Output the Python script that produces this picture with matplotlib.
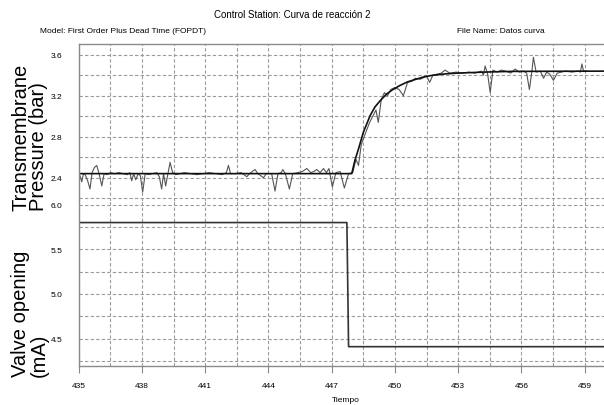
import matplotlib
matplotlib.use("Agg")
import matplotlib.pyplot as plt
from matplotlib.ticker import MultipleLocator

narrow = ['Liberation Sans Narrow', 'Liberation Sans', 'DejaVu Sans']
plt.rcParams['font.family'] = narrow

t_meas = [435.0, 435.07, 435.14, 435.22, 435.3, 435.42, 435.53, 435.63, 435.74, 435.85,
          435.96, 436.09, 436.2, 436.35, 436.5, 436.7, 436.9, 437.1, 437.3, 437.42,
          437.51, 437.6, 437.7, 437.82, 437.92, 438.03, 438.15, 438.3, 438.5, 438.7,
          438.82, 438.93, 439.02, 439.12, 439.22, 439.33, 439.45, 439.6, 439.8, 440.0,
          440.3, 440.6, 440.9, 441.2, 441.5, 441.8, 442.0, 442.1, 442.2, 442.4,
          442.7, 442.97, 443.1, 443.36, 443.5, 443.76, 443.9, 444.15, 444.31, 444.45,
          444.6, 444.68, 444.8, 444.99, 445.15, 445.4, 445.6, 445.82, 446.0, 446.15,
          446.29, 446.45, 446.61, 446.75, 446.87, 447.03, 447.2, 447.4, 447.6, 447.8,
          448.0, 448.15, 448.27, 448.4, 448.5, 448.65, 448.8, 448.95, 449.1, 449.21,
          449.35, 449.5, 449.65, 449.8, 450.0, 450.2, 450.4, 450.6, 450.8, 450.96,
          451.2, 451.5, 451.65, 451.8, 452.0, 452.2, 452.38, 452.6, 452.9, 453.2,
          453.5, 453.8, 454.1, 454.2, 454.28, 454.4, 454.52, 454.65, 454.85, 455.05,
          455.25, 455.5, 455.7, 455.9, 456.1, 456.25, 456.38, 456.5, 456.57, 456.7,
          456.9, 457.05, 457.2, 457.35, 457.52, 457.7, 457.9, 458.1, 458.4, 458.7,
          458.8, 458.87, 458.95, 459.1]
p_meas = [2.44, 2.41, 2.36, 2.44, 2.43, 2.37, 2.29, 2.45, 2.5, 2.52,
          2.44, 2.32, 2.44, 2.43, 2.45, 2.44, 2.45, 2.44, 2.43, 2.45,
          2.37, 2.44, 2.38, 2.44, 2.42, 2.26, 2.44, 2.43, 2.44, 2.45,
          2.41, 2.29, 2.44, 2.32, 2.43, 2.55, 2.45, 2.43, 2.44, 2.45,
          2.44, 2.43, 2.44, 2.45, 2.44, 2.43, 2.45, 2.52, 2.44, 2.44,
          2.45, 2.41, 2.44, 2.48, 2.44, 2.40, 2.44, 2.44, 2.27, 2.44,
          2.45, 2.48, 2.44, 2.29, 2.44, 2.45, 2.46, 2.49, 2.45, 2.46,
          2.48, 2.45, 2.49, 2.45, 2.49, 2.31, 2.45, 2.46, 2.30, 2.44,
          2.45, 2.58, 2.52, 2.72, 2.78, 2.86, 2.94, 3.0, 3.06, 2.94,
          3.16, 3.23, 3.20, 3.26, 3.28, 3.26, 3.20, 3.33, 3.34, 3.37,
          3.36, 3.39, 3.33, 3.40, 3.41, 3.42, 3.45, 3.42, 3.43, 3.42,
          3.43, 3.42, 3.44, 3.40, 3.49, 3.41, 3.23, 3.45, 3.43, 3.45,
          3.44, 3.42, 3.46, 3.43, 3.44, 3.42, 3.26, 3.44, 3.575, 3.43,
          3.44, 3.37, 3.43, 3.41, 3.35, 3.42, 3.43, 3.44, 3.43, 3.44,
          3.43, 3.51, 3.44, 3.44]

# FOPDT model curve
t_model = [435.0, 447.95, 448.1, 448.27, 448.5, 448.82, 449.05, 449.3, 449.6, 449.9,
           450.24, 450.6, 451.04, 451.4, 451.82, 452.4, 452.94, 454.2, 455.5, 460.4]
p_model = [2.44, 2.44, 2.57, 2.68, 2.843, 3.005, 3.09, 3.151, 3.216, 3.26,
           3.30, 3.335, 3.363, 3.385, 3.40, 3.413, 3.42, 3.43, 3.437, 3.44]

# valve opening step
t_valve = [435.0, 447.72, 447.8, 460.4]
v_valve = [5.80, 5.80, 4.41, 4.41]

fig = plt.figure(figsize=(6.04, 4.06), dpi=100)
ax1 = fig.add_axes([0.1305, 0.5017, 0.8845, 0.3864])
ax2 = fig.add_axes([0.1305, 0.0968, 0.8845, 0.4049])

grid_kw = dict(color='#9a9a9a', linestyle=(0, (3, 2)), linewidth=0.8)
for ax in (ax1, ax2):
    ax.set_xlim(435, 460.35)
    ax.xaxis.set_major_locator(MultipleLocator(3))
    ax.xaxis.set_minor_locator(MultipleLocator(1.5))
    ax.grid(True, which='both', **grid_kw)
    ax.set_axisbelow(True)
    for s in ax.spines.values():
        s.set_color('#8a8a8a')
        s.set_linewidth(1.0)
    ax.spines['right'].set_visible(False)
    ax.tick_params(axis='y', which='both', length=0, pad=12, labelsize=6)

ax1.plot(t_meas, p_meas, color='#555555', lw=0.8)
ax1.plot(t_model, p_model, color='#111111', lw=1.2)
ax1.set_ylim(2.17, 3.7)
ax1.yaxis.set_major_locator(MultipleLocator(0.4))
ax1.yaxis.set_minor_locator(MultipleLocator(0.2))
ax1.spines['bottom'].set_visible(False)
ax1.tick_params(axis='x', which='both', length=0, labelbottom=False)

ax2.plot(t_valve, v_valve, color='#333333', lw=1.2)
ax2.set_ylim(4.197, 6.038)
ax2.yaxis.set_major_locator(MultipleLocator(0.5))
ax2.yaxis.set_minor_locator(MultipleLocator(0.25))
ax2.spines['top'].set_visible(False)
ax2.tick_params(axis='x', which='major', length=5, color='#8a8a8a', pad=7, labelsize=6)
ax2.tick_params(axis='x', which='minor', length=0)

fig.text(292.5 / 604, 1 - 15 / 406, 'Control Station: Curva de reacción 2',
         ha='center', va='center', fontsize=7)
fig.text(40 / 604, 1 - 31.7 / 406, 'Model: First Order Plus Dead Time (FOPDT)',
         ha='left', va='center', fontsize=6)
fig.text(456.7 / 604, 1 - 31.7 / 406, 'File Name: Datos curva',
         ha='left', va='center', fontsize=6)
fig.text(346 / 604, 1 - 401 / 406, 'Tiempo', ha='center', va='center', fontsize=6)

big = ['Liberation Sans', 'DejaVu Sans']
fig.text(21 / 604, 1 - 211 / 406, 'Transmembrane', rotation=90, ha='center', va='bottom',
         fontsize=14.5, family=big)
fig.text(39 / 604, 1 - 211 / 406, 'Pressure (bar)', rotation=90, ha='center', va='bottom',
         fontsize=14.5, family=big)
fig.text(21 / 604, 1 - 377 / 406, 'Valve opening', rotation=90, ha='center', va='bottom',
         fontsize=14.5, family=big)
fig.text(39 / 604, 1 - 377 / 406, '(mA)', rotation=90, ha='center', va='bottom',
         fontsize=14.5, family=big)

fig.savefig('out.png', dpi=100)
